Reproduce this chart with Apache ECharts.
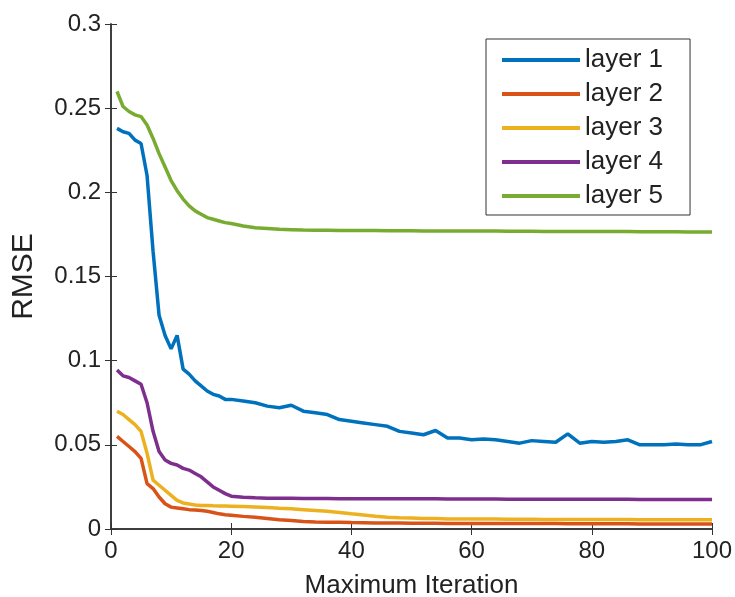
<!DOCTYPE html>
<html>
<head>
<meta charset="utf-8">
<script src="https://cdn.jsdelivr.net/npm/echarts@6/dist/echarts.min.js"></script>
<style>
  html, body { margin: 0; padding: 0; background: #fff; }
  #chart { width: 735px; height: 597px; }
</style>
</head>
<body>
<div id="chart"></div>
<script>
// iterations shared by every layer
var iterations = [1,2,3,4,5,6,7,8,9,10,11,12,13,14,15,16,17,18,19,20,
    22,24,26,28,30,32,34,36,38,40,42,44,46,48,50,52,54,56,58,60,
    62,64,66,68,70,72,74,76,78,80,82,84,86,88,90,92,94,96,98,100];

var layer1 = [0.238,0.236,0.235,0.231,0.229,0.21,0.165,0.127,0.115,0.107,0.115,0.095,0.092,0.088,0.085,0.082,0.08,0.079,0.077,0.077,
    0.076,0.075,0.073,0.072,0.0735,0.070,0.069,0.068,0.065,0.064,0.063,0.062,0.061,0.058,0.057,0.056,0.0585,0.054,0.054,0.053,
    0.0535,0.053,0.052,0.051,0.0525,0.052,0.0515,0.0565,0.051,0.052,0.0515,0.052,0.053,0.050,0.050,0.050,0.0505,0.050,0.050,0.052];

var layer2 = [0.055,0.052,0.049,0.046,0.042,0.027,0.024,0.019,0.015,0.013,0.0125,0.012,0.0115,0.0113,0.011,0.0105,0.0098,0.009,0.0085,0.0082,
    0.0075,0.007,0.0063,0.0055,0.005,0.0045,0.0042,0.004,0.004,0.0038,0.0037,0.0036,0.0035,0.0035,0.0034,0.0034,0.0034,0.0033,0.0033,0.0033,
    0.0033,0.0033,0.0032,0.0032,0.0032,0.0032,0.0032,0.0031,0.0031,0.0031,0.0031,0.0031,0.0031,0.003,0.003,0.003,0.003,0.003,0.003,0.003];

var layer3 = [0.070,0.068,0.065,0.062,0.058,0.045,0.029,0.026,0.023,0.020,0.017,0.0155,0.0148,0.0143,0.014,0.014,0.0138,0.0137,0.0136,0.0135,
    0.0133,0.013,0.0127,0.0123,0.012,0.0115,0.011,0.0105,0.0098,0.009,0.0083,0.0076,0.007,0.0067,0.0065,0.0063,0.0062,0.006,0.006,0.006,
    0.0059,0.0059,0.0058,0.0058,0.0058,0.0057,0.0057,0.0057,0.0056,0.0056,0.0056,0.0056,0.0056,0.0055,0.0055,0.0055,0.0055,0.0055,0.0055,0.0055];

var layer4 = [0.0945,0.091,0.09,0.088,0.086,0.075,0.058,0.046,0.041,0.039,0.038,0.036,0.035,0.033,0.031,0.028,0.025,0.023,0.021,0.0195,
    0.0188,0.0185,0.0183,0.0182,0.0182,0.0181,0.0181,0.0181,0.018,0.018,0.018,0.018,0.018,0.0179,0.0179,0.0179,0.0179,0.0178,0.0178,0.0178,
    0.0178,0.0178,0.0177,0.0177,0.0177,0.0177,0.0177,0.0176,0.0176,0.0176,0.0176,0.0176,0.0176,0.0175,0.0175,0.0175,0.0175,0.0175,0.0175,0.0175];

var layer5 = [0.260,0.251,0.248,0.246,0.245,0.240,0.232,0.223,0.215,0.207,0.201,0.196,0.192,0.189,0.187,0.185,0.184,0.183,0.182,0.1815,
    0.180,0.179,0.1785,0.178,0.1778,0.1776,0.1775,0.1775,0.1774,0.1774,0.1773,0.1773,0.1772,0.1772,0.1772,0.1771,0.1771,0.1771,0.177,0.177,
    0.177,0.177,0.1769,0.1769,0.1769,0.1768,0.1768,0.1768,0.1768,0.1767,0.1767,0.1767,0.1767,0.1766,0.1766,0.1766,0.1766,0.1765,0.1765,0.1765];

var layerNames = ['layer 1','layer 2','layer 3','layer 4','layer 5'];
var layerData = [layer1, layer2, layer3, layer4, layer5];
var colors = ['#0072BD','#D95319','#EDB120','#7E2F8E','#77AC30'];

var font = 'Helvetica, Arial, "Liberation Sans", sans-serif';

var series = [];
for (var i = 0; i < layerNames.length; i++) {
    var pts = [];
    for (var j = 0; j < iterations.length; j++) {
        pts.push([iterations[j], layerData[i][j]]);
    }
    series.push({
        name: layerNames[i],
        type: 'line',
        data: pts,
        symbol: 'none',
        smooth: false,
        lineStyle: { width: 3.5, color: colors[i] },
        itemStyle: { color: colors[i] },
        z: 2
    });
}

var myChart = echarts.init(document.getElementById('chart'));
var boxAxis = {
    axisLine: { show: true, lineStyle: { color: '#333', width: 1.5 } },
    axisTick: { show: true, inside: true, length: 6, lineStyle: { color: '#333' } },
    splitLine: { show: false }
};
option = {
    animation: false,
    color: colors,
    grid: { left: 111, right: 23, top: 24, bottom: 68, outerBoundsMode: 'none', containLabel: false },
    legend: {
        orient: 'vertical',
        left: 486,
        top: 39,
        icon: 'rect',
        itemWidth: 78,
        itemHeight: 4,
        itemGap: 8,
        padding: [8, 27, 6, 16],
        borderColor: '#333',
        borderWidth: 1,
        backgroundColor: '#fff',
        textStyle: { fontSize: 26, lineHeight: 26, color: '#222', fontFamily: font },
        data: layerNames
    },
    xAxis: [{
        type: 'value',
        min: 0, max: 100, interval: 20,
        position: 'bottom',
        name: 'Maximum Iteration',
        nameLocation: 'middle',
        nameGap: 44,
        nameTextStyle: { fontSize: 26, color: '#222', fontFamily: font },
        axisLabel: { fontSize: 24, color: '#222', margin: 10, fontFamily: font },
        axisLine: boxAxis.axisLine, axisTick: boxAxis.axisTick, splitLine: boxAxis.splitLine
    }, {
        type: 'value',
        min: 0, max: 100, interval: 20,
        position: 'top',
        axisLabel: { show: false },
        axisLine: boxAxis.axisLine, axisTick: boxAxis.axisTick, splitLine: boxAxis.splitLine
    }],
    yAxis: [{
        type: 'value',
        min: 0, max: 0.3, interval: 0.05,
        position: 'left',
        name: 'RMSE',
        nameLocation: 'middle',
        nameGap: 72,
        nameTextStyle: { fontSize: 30, color: '#222', fontFamily: font },
        axisLabel: { fontSize: 24, color: '#222', margin: 10, fontFamily: font },
        axisLine: boxAxis.axisLine, axisTick: boxAxis.axisTick, splitLine: boxAxis.splitLine
    }, {
        type: 'value',
        min: 0, max: 0.3, interval: 0.05,
        position: 'right',
        axisLabel: { show: false },
        axisLine: boxAxis.axisLine, axisTick: boxAxis.axisTick, splitLine: boxAxis.splitLine
    }],
    series: series
};
myChart.setOption(option);
</script>
</body>
</html>
